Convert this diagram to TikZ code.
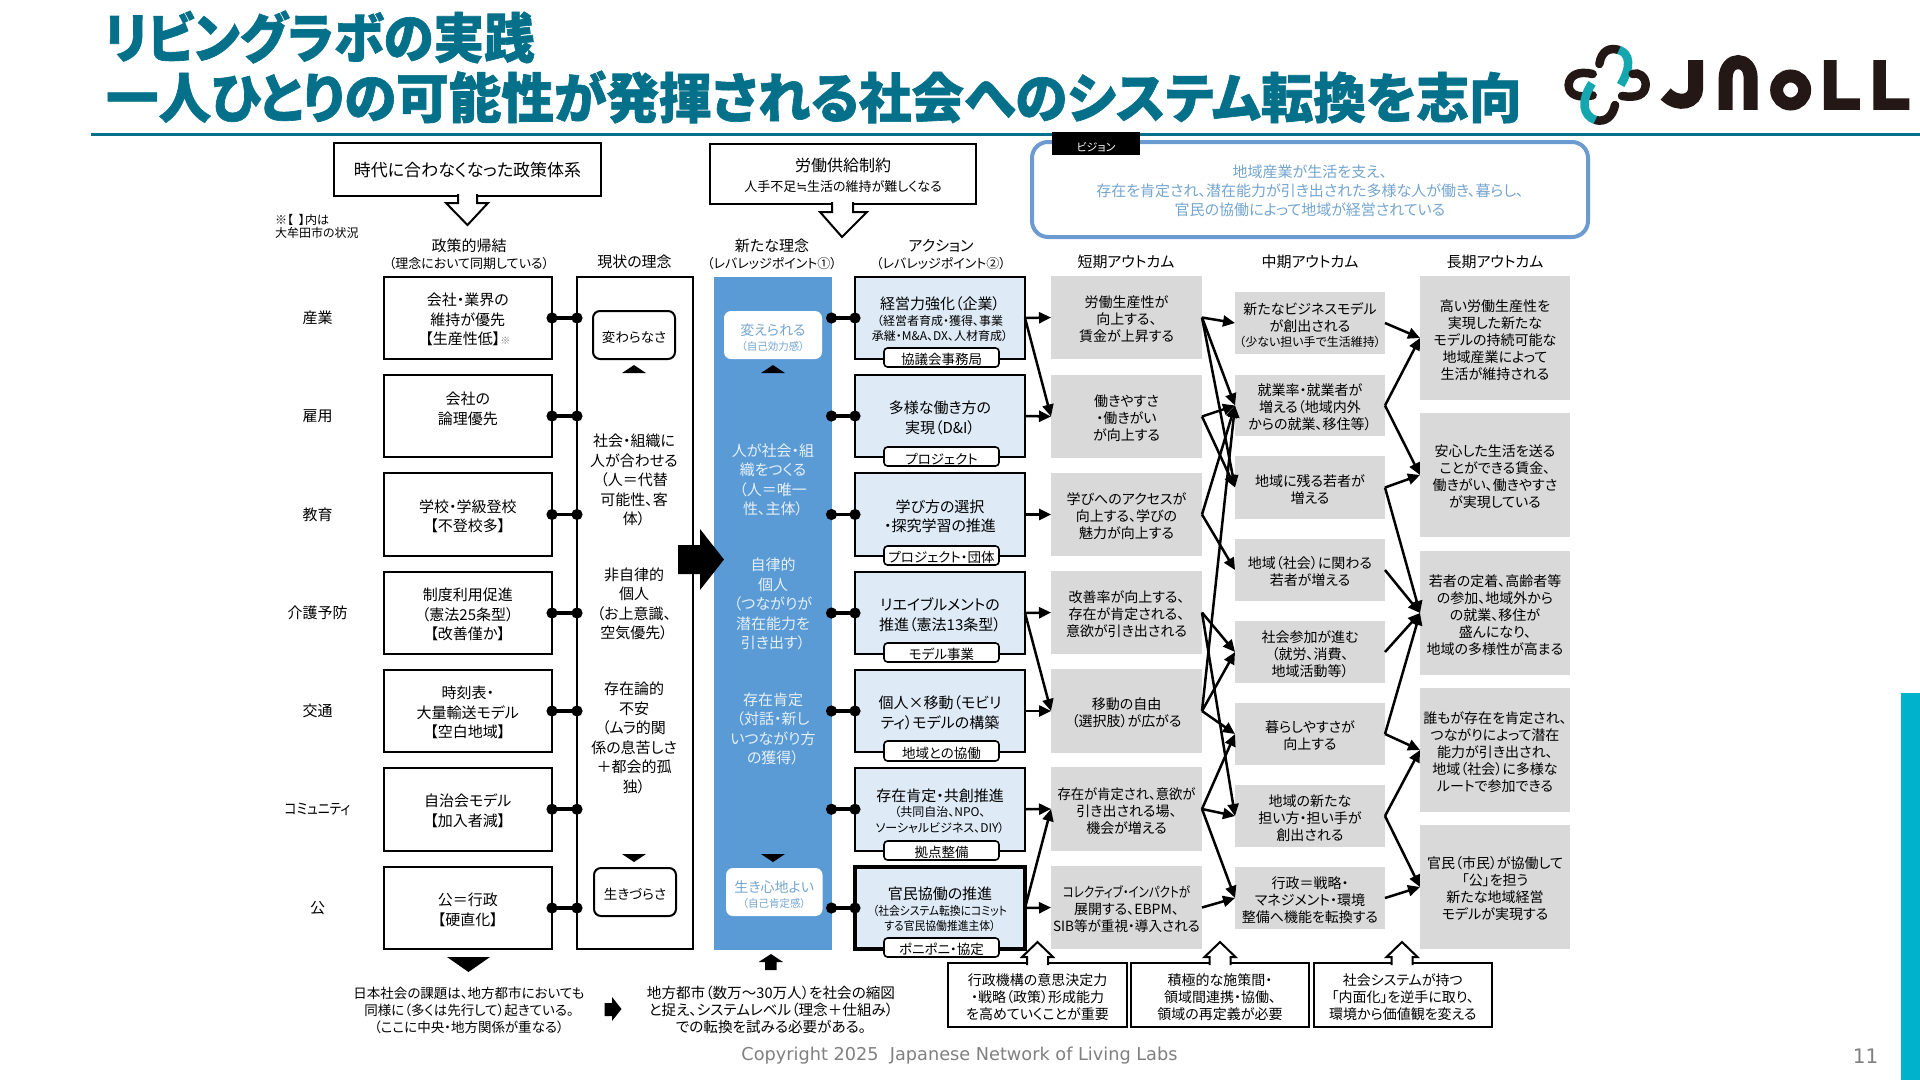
\documentclass[tikz,border=0pt]{standalone}
\usepackage{fontspec}
\usepackage{graphicx}
\setmainfont[RawFeature={+palt}]{Noto Sans CJK JP}
\newfontfamily\titlef[RawFeature={+palt},BoldFeatures={FakeBold=1.2}]{Noto Sans CJK JP}
\newfontfamily\copyf{DejaVu Sans}
\usetikzlibrary{arrows.meta}
\definecolor{teal1}{HTML}{04708A}
\definecolor{barc}{HTML}{00B2CC}
\definecolor{bluec}{HTML}{5B9BD5}
\definecolor{lightb}{HTML}{DEEAF6}
\definecolor{grayb}{HTML}{D9D9D9}
\definecolor{visc}{HTML}{6B9BD0}
\definecolor{vistx}{HTML}{74A5CF}
\definecolor{bluetx}{HTML}{E6F0F9}
\definecolor{logok}{HTML}{231815}
\definecolor{logot}{HTML}{14A7B0}
\newcommand{\bx}[7]{\node[#2,minimum width={(#5-#3)*1pt},minimum height={(#6-#4)*1pt}] (#1) at ({(#3+#5)/2},{(#4+#6)/2}) {\rule{0pt}{16pt}#7};}
\newcommand{\smt}[1]{{\fontsize{12}{15}\selectfont #1}}
\newcommand{\dotlink}[2]{\draw[linkline] (#1) -- (#2); \fill (#1) circle[radius=5.6pt]; \fill (#2) circle[radius=5.6pt];}
\tikzset{
 base/.style={inner sep=0pt,outer sep=0pt,align=center},
 fa/.style={font=\fontsize{15}{19.5}\selectfont},
 fb/.style={font=\fontsize{14}{17}\selectfont},
 pbox/.style={base,fa,draw=black,line width=2pt,fill=white},
 frame/.style={base,draw=black,line width=2pt,fill=white},
 ibox/.style={base,draw=black,line width=2pt,rounded corners=7pt,fill=white,font=\fontsize{13.5}{17}\selectfont},
 wbox/.style={base,fill=white,rounded corners=7pt,text=vistx,font=\fontsize{14}{15}\selectfont},
 abox/.style={base,fa,draw=black,line width=2pt,fill=lightb},
 tagbox/.style={base,draw=black,line width=1.6pt,rounded corners=3.5pt,fill=white,font=\fontsize{13.5}{15}\selectfont},
 gbox/.style={base,fb,fill=grayb},
 bbox/.style={base,fb,draw=black,line width=2pt,fill=white},
 plain/.style={base,fa},
 bluetext/.style={base,fa,text=bluetx},
 hd/.style={base,font=\fontsize{15}{17}\selectfont},
 linkline/.style={line width=3.6pt},
 arr/.style={line width=2.5pt,-{Triangle[length=12pt,width=11pt]}},
 hollow/.style={draw=black,line width=2pt,fill=white,line join=miter},
 lk/.style={line width=8.5pt,line cap=round,color=logok},
 lt/.style={line width=8.5pt,line cap=round,color=logot},
 lg/.style={line width=14pt,color=logok},
}
\begin{document}
\begin{tikzpicture}[x=1pt,y=-1pt]
\useasboundingbox (0,0) rectangle (1920,1080);
\fill[white] (0,0) rectangle (1920,1080);
% title
\node[base,anchor=west,text=teal1] (t1) at (104,37) {\scalebox{0.936}[1]{\titlef\bfseries\fontsize{54}{54}\selectfont リビングラボの実践}};
\node[base,anchor=west,text=teal1] (t2) at (106,97) {\scalebox{0.974}[1]{\titlef\bfseries\fontsize{54}{54}\selectfont 一人ひとりの可能性が発揮される社会へのシステム転換を志向}};
\fill[teal1] (91,132.5) rectangle (1920,135.5);
% logo
\begin{scope}[shift={(1550,30)},x=0.3333pt,y=-0.3333pt]
 \draw[lk] (148,102) .. controls (155,60) and (180,52) .. (207,60);
 \draw[lt,line cap=butt] (207,60) .. controls (240,70) and (245,110) .. (212,165);
 \draw[lk] (128,132) .. controls (85,122) and (58,135) .. (56,165) .. controls (56,195) and (85,205) .. (128,196);
 \draw[lk] (248,132) .. controls (265,125) and (288,140) .. (287,165) .. controls (285,195) and (260,205) .. (216,198);
 \draw[lk] (136,270) .. controls (165,278) and (188,260) .. (195,225);
 \draw[lt,line cap=butt] (136,270) .. controls (100,258) and (90,215) .. (126,160);
 \draw[lg,line width=15pt] (437,90) -- (437,175) .. controls (437,215) and (385,230) .. (347,192);
 \draw[lg] (527,240) -- (527,145) .. controls (527,80) and (602,80) .. (602,145) -- (602,240);
 \draw[lg,line width=13pt] (722,180) circle[radius=14pt];
 \fill[logok] (822,90) -- (860,90) -- (860,205) -- (930,205) -- (930,240) -- (822,240) -- cycle;
 \fill[logok] (970,90) -- (1008,90) -- (1008,205) -- (1078,205) -- (1078,240) -- (970,240) -- cycle;
\end{scope}
% side bar & footer
\fill[barc] (1901,693) rectangle (1920,1080);
\node[base,text=gray] (copy) at (959.5,1056) {\copyf\fontsize{17.7}{19}\selectfont Copyright 2025\ \ Japanese Network of Living Labs};
\node[base,text=gray] (pg) at (1865.5,1056) {\copyf\fontsize{20}{22}\selectfont 11};
% top boxes
\bx{top1}{bbox,font=\fontsize{17}{20}\selectfont}{334}{143}{601}{196}{時代に合わなくなった政策体系}
\bx{top2}{bbox,font=\fontsize{16}{20}\selectfont}{710}{144}{976}{204}{労働供給制約\\{\fontsize{13}{16}\selectfont 人手不足{\copyf ≒}生活の維持が難しくなる}}
\draw[hollow] (458,194) -- (458,203) -- (446,203) -- (467.5,225) -- (488,203) -- (477,203) -- (477,194);
\draw[hollow] (832,202) -- (832,212) -- (820,212) -- (842,237) -- (867,212) -- (853,212) -- (853,202);
% vision
\bx{vis}{base,draw=visc,line width=4pt,rounded corners=16pt,text=vistx,font=\fontsize{15}{19}\selectfont}{1032}{142}{1588}{237}{地域産業が生活を支え、\\存在を肯定され、潜在能力が引き出された多様な人が働き、暮らし、\\官民の協働によって地域が経営されている}
\bx{vistag}{base,fill=black,text=white,font=\fontsize{11}{12}\selectfont}{1052}{132}{1140}{155}{ビジョン}
% note and headers
\node[base,anchor=west,align=left,font=\fontsize{12}{13}\selectfont] (note) at (275,226.5) {※【\hspace{6pt}】内は\\大牟田市の状況};
\node[hd] (h1) at (469,254.5) {政策的帰結\\{\fontsize{13}{16}\selectfont （理念において同期している）}};
\node[hd] (h2) at (634.5,262) {現状の理念};
\node[hd] (h3) at (772,254.5) {新たな理念\\{\fontsize{13}{16}\selectfont （レバレッジポイント①）}};
\node[hd] (h4) at (941,254.5) {アクション\\{\fontsize{13}{16}\selectfont （レバレッジポイント②）}};
\node[hd] (h5) at (1126,262) {短期アウトカム};
\node[hd] (h6) at (1310,262) {中期アウトカム};
\node[hd] (h7) at (1495,262) {長期アウトカム};
% row labels
\node[plain] (r1) at (317.5,318) {産業};
\node[plain] (r2) at (317.5,416) {雇用};
\node[plain] (r3) at (317.5,514.5) {教育};
\node[plain] (r4) at (317.5,613) {介護予防};
\node[plain] (r5) at (317.5,711) {交通};
\node[plain] (r6) at (317.5,809) {\scalebox{0.85}[1]{コミュニティ}};
\node[plain] (r7) at (317.5,908) {公};
% policy column
\bx{c1}{pbox}{383.5}{277}{552}{359}{会社・業界の\\維持が優先\\【生産性低】{\fontsize{10}{10}\selectfont\color{gray}※}}
\bx{c2}{pbox}{383.5}{375}{552}{457}{会社の\\論理優先\\~}
\bx{c3}{pbox}{383.5}{473}{552}{556}{学校・学級登校\\【不登校多】}
\bx{c4}{pbox}{383.5}{572}{552}{654}{制度利用促進\\（憲法25条型）\\【改善僅か】}
\bx{c5}{pbox}{383.5}{670}{552}{752}{時刻表・\\大量輸送モデル\\【空白地域】}
\bx{c6}{pbox}{383.5}{768}{552}{850.5}{自治会モデル\\【加入者減】}
\bx{c7}{pbox}{383.5}{867}{552}{949}{公＝行政\\【硬直化】}
% current ideal
\bx{fr}{frame}{577}{277}{693}{949}{}
\bx{ib1}{ibox}{593}{311}{675}{359}{変わらなさ}
\bx{ib2}{ibox}{594}{868}{676}{916}{生きづらさ}
\fill (622,373) -- (634,365) -- (646,373) -- cycle;
\fill (622,854) -- (634,862) -- (646,854) -- cycle;
\node[plain] (ct1) at (634,480) {社会・組織に\\人が合わせる\\（人＝代替\\可能性、客\\体）};
\node[plain] (ct2) at (634,604) {非自律的\\個人\\（お上意識、\\空気優先）};
\node[plain] (ct3) at (634,738) {存在論的\\不安\\（ムラ的関\\係の息苦しさ\\＋都会的孤\\独）};
% new ideal
\bx{blue}{base,fill=bluec}{714}{277}{831.5}{950}{}
\bx{wb1}{wbox}{724}{311}{822}{359}{変えられる\\{\fontsize{10.5}{13}\selectfont （自己効力感）}}
\bx{wb2}{wbox}{726}{868}{822.5}{916}{生き心地よい\\{\fontsize{10.5}{13}\selectfont （自己肯定感）}}
\fill (761,373) -- (773,365) -- (785,373) -- cycle;
\fill (761,854) -- (773,862) -- (785,854) -- cycle;
\node[bluetext] (bt1) at (773,480) {人が社会・組\\織をつくる\\（人＝唯一\\性、主体）};
\node[bluetext] (bt2) at (773,604) {自律的\\個人\\（つながりが\\潜在能力を\\引き出す）};
\node[bluetext] (bt3) at (773,729) {存在肯定\\（対話・新し\\いつながり方\\の獲得）};
% big arrow
\fill (678,545) -- (700,545) -- (700,529) -- (724,559.5) -- (700,590) -- (700,574) -- (678,574) -- cycle;
% actions
\bx{a1}{abox}{855}{277}{1025}{359}{経営力強化（企業）\\[-4pt]\smt{（経営者育成・獲得、事業}\\[-4pt]\smt{承継・M\&A、DX、人材育成）}}
\bx{a2}{abox}{855}{375}{1025}{457}{多様な働き方の\\実現（D\&I）}
\bx{a3}{abox}{855}{473}{1025}{556}{学び方の選択\\・探究学習の推進}
\bx{a4}{abox}{855}{572}{1025}{654}{リエイブルメントの\\推進（憲法13条型）}
\bx{a5}{abox}{855}{670}{1025}{752}{個人×移動（モビリ\\ティ）モデルの構築}
\bx{a6}{abox}{855}{768}{1025}{850.5}{存在肯定・共創推進\\[-4pt]\smt{（共同自治、NPO、}\\[-4pt]\smt{ソーシャルビジネス、DIY）}}
\bx{a7}{abox,line width=3.5pt}{855}{867}{1025}{949}{官民協働の推進\\[-4pt]\smt{\scalebox{0.9}[1]{（社会システム転換にコミット}}\\[-4pt]\smt{\scalebox{0.9}[1]{する官民協働推進主体）}}}
\bx{g1}{tagbox}{884}{348}{999}{367}{協議会事務局}
\bx{g2}{tagbox}{884}{447}{999}{466}{プロジェクト}
\bx{g3}{tagbox}{884}{546}{999}{565}{プロジェクト・団体}
\bx{g4}{tagbox}{884}{643}{999}{662}{モデル事業}
\bx{g5}{tagbox}{884}{741}{999}{761}{地域との協働}
\bx{g6}{tagbox}{884}{841}{999}{860}{拠点整備}
\bx{g7}{tagbox}{884}{938}{999}{957}{ポニポニ・協定}
% short
\bx{s1}{gbox}{1051}{276}{1202}{359}{労働生産性が\\向上する、\\賃金が上昇する}
\bx{s2}{gbox}{1051}{375}{1202}{458}{働きやすさ\\・働きがい\\が向上する}
\bx{s3}{gbox}{1051}{473}{1202}{556}{学びへのアクセスが\\向上する、学びの\\魅力が向上する}
\bx{s4}{gbox}{1051}{571}{1202}{654}{改善率が向上する、\\存在が肯定される、\\意欲が引き出される}
\bx{s5}{gbox}{1051}{669}{1202}{753}{移動の自由\\（選択肢）が広がる}
\bx{s6}{gbox}{1051}{767}{1202}{851}{\scalebox{0.95}[1]{存在が肯定され、意欲が}\\引き出される場、\\機会が増える}
\bx{s7}{gbox}{1051}{866}{1202}{949}{\scalebox{0.82}[1]{コレクティブ・インパクトが}\\展開する、EBPM、\\\scalebox{0.97}[1]{SIB等が重視・導入される}}
% mid
\bx{m1}{gbox}{1235}{292}{1385}{354}{新たなビジネスモデル\\が創出される\\[-2pt]\smt{（少ない担い手で生活維持）}}
\bx{m2}{gbox}{1235}{375}{1385}{436}{就業率・就業者が\\増える（地域内外\\からの就業、移住等）}
\bx{m3}{gbox}{1235}{456}{1385}{519}{地域に残る若者が\\増える}
\bx{m4}{gbox}{1235}{539}{1385}{601}{地域（社会）に関わる\\若者が増える}
\bx{m5}{gbox}{1235}{621}{1385}{683}{社会参加が進む\\（就労、消費、\\地域活動等）}
\bx{m6}{gbox}{1235}{703}{1385}{765}{暮らしやすさが\\向上する}
\bx{m7}{gbox}{1235}{785}{1385}{847}{地域の新たな\\担い方・担い手が\\創出される}
\bx{m8}{gbox}{1235}{867}{1385}{929}{行政＝戦略・\\マネジメント・環境\\整備へ機能を転換する}
% long
\bx{l1}{gbox}{1420}{276}{1570}{400}{高い労働生産性を\\実現した新たな\\モデルの持続可能な\\地域産業によって\\生活が維持される}
\bx{l2}{gbox}{1420}{413}{1570}{537}{安心した生活を送る\\ことができる賃金、\\働きがい、働きやすさ\\が実現している}
\bx{l3}{gbox}{1420}{551}{1570}{675}{若者の定着、高齢者等\\の参加、地域外から\\の就業、移住が\\盛んになり、\\地域の多様性が高まる}
\bx{l4}{gbox}{1420}{688}{1570}{812}{誰もが存在を肯定され、\\つながりによって潜在\\能力が引き出され、\\地域（社会）に多様な\\ルートで参加できる}
\bx{l5}{gbox}{1420}{825}{1570}{949}{官民（市民）が協働して\\「公」を担う\\新たな地域経営\\モデルが実現する}
% dotted links
\foreach \i in {1,...,7}{
 \dotlink{c\i.east}{c\i.east -| fr.west}
 \dotlink{a\i.west -| blue.east}{a\i.west}
 \draw[arr] (a\i.east) -- (s\i.west);
}
\draw[arr] (a1.east) -- (s2.west);
\draw[arr] (a4.east) -- (s5.west);
\draw[arr] (a7.east) -- (s6.west);
% short to mid
\foreach \a/\b in {s1/m1,s1/m2,s1/m3,s2/m2,s2/m3,s3/m2,s3/m4,s4/m5,s4/m7,s5/m2,s5/m5,s5/m6,s6/m6,s6/m7,s6/m8,s7/m8}{
 \draw[arr] (\a.east) -- (\b.west);
}
% mid to long
\foreach \a/\b in {m1/l1,m2/l1,m2/l2,m3/l2,m3/l3,m4/l3,m5/l3,m6/l3,m6/l4,m7/l4,m7/l5,m8/l5}{
 \draw[arr] (\a.east) -- (\b.west);
}
% bottom boxes
\bx{b1}{bbox}{948}{963}{1127}{1027}{行政機構の意思決定力\\・戦略（政策）形成能力\\を高めていくことが重要}
\bx{b2}{bbox}{1131}{963}{1309}{1027}{積極的な施策間・\\領域間連携・協働、\\領域の再定義が必要}
\bx{b3}{bbox}{1314}{963}{1491.5}{1027}{社会システムが持つ\\「内面化」を逆手に取り、\\環境から価値観を変える}
\foreach \c in {1037.5,1220,1402}{
 \draw[hollow] (\c-10.5,965) -- (\c-10.5,957) -- (\c-15.5,957) -- (\c,942) -- (\c+15.5,957) -- (\c+10.5,957) -- (\c+10.5,965);
}
% bottom remarks
\fill (447,957) -- (490,957) -- (468.5,972) -- cycle;
\node[base,font=\fontsize{13.5}{17}\selectfont] (n1) at (469,1010) {日本社会の課題は、地方都市においても\\同様に（多くは先行して）起きている。\\（ここに中央・地方関係が重なる）};
\fill (604.5,1003) -- (612,1003) -- (612,997) -- (621.5,1009) -- (612,1021) -- (612,1016) -- (604.5,1016) -- cycle;
\node[base,font=\fontsize{14.6}{17}\selectfont] (n2) at (771,1010) {地方都市（数万～30万人）を社会の縮図\\と捉え、システムレベル（理念＋仕組み）\\での転換を試みる必要がある。};
\fill (771,954) -- (783,962) -- (776.5,962) -- (776.5,970) -- (765,970) -- (765,962) -- (758.6,962) -- cycle;
\end{tikzpicture}
\end{document}
